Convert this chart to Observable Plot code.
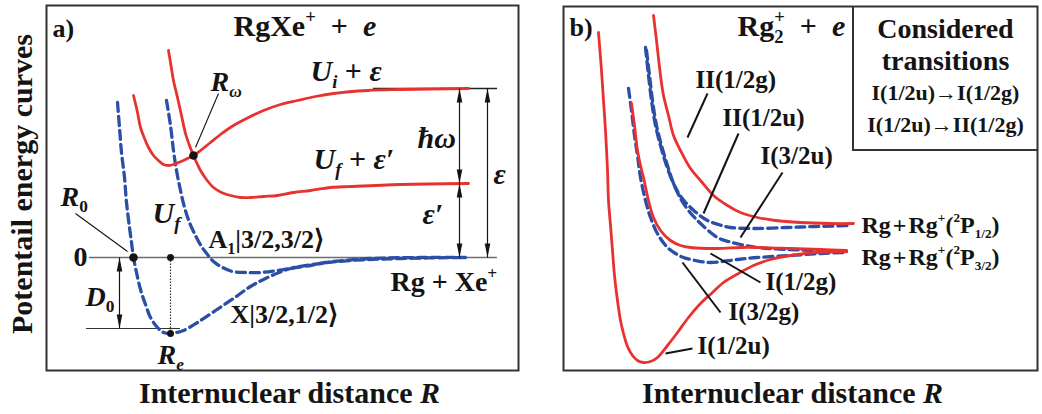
<!DOCTYPE html>
<html>
<head>
<meta charset="utf-8">
<script src="https://cdn.jsdelivr.net/npm/d3@7"></script>
<script src="https://cdn.jsdelivr.net/npm/@observablehq/plot@0.6"></script>
<style>
  body { margin: 0; background: #fff; }
  #fig { position: relative; width: 1042px; height: 414px; font-family: 'Liberation Serif', 'Times New Roman', serif; font-weight: bold; color: #141414; }
  #fig svg { position: absolute; top: 0; }
  #legend { position: absolute; left: 852px; top: 6px; width: 185px; height: 145px; box-sizing: border-box;
            border-left: 2px solid #333; border-bottom: 2px solid #333; text-align: center; padding-top: 7px; }
</style>
</head>
<body>
<div id="fig">
  <div id="legend">
    <div style="font-size:28px;line-height:32px">Considered</div>
    <div style="font-size:28px;line-height:32px">transitions</div>
    <div style="font-size:22px;line-height:32px">I(1/2u)→I(1/2g)</div>
    <div style="font-size:22px;line-height:31px">I(1/2u)→II(1/2g)</div>
  </div>
</div>
<script>
// ---- Panel a: RgXe+ + e  (R in arbitrary units, E relative to the Rg + Xe+ limit) ----
const xState  = [[71,155],[73,130],[75,105],[78,80],[80,55],[83,30],[85,15],[87,0],[90,-15],[94,-32],[99,-47],[104,-60],[111,-70],[117,-75],[124,-76],[130,-75],[137,-73],[151,-65],[169,-53],[187,-41],[204,-29],[219,-21],[244,-11],[274,-6],[304,-3],[354,-1],[419,0]];
const a1State = [[120,157],[124,132],[127,107],[130,87],[134,67],[138,50],[143,35],[149,22],[155,11],[161,3],[167,-4],[176,-10],[186,-14],[199,-15],[214,-15],[231,-13],[249,-10],[264,-8],[279,-5],[297,-3],[324,-1],[374,0],[419,0]];
const uiCurve = [[87,162],[91,145],[94,130],[98,119],[102,110],[107,102],[112,97],[117,93],[122,92],[127,93],[132,95],[139,98],[147,102],[154,107],[164,115],[174,123],[187,132],[202,140],[217,147],[234,153],[251,157],[269,161],[287,164],[321,167],[354,168],[422,169]];
const ufCurve = [[122,207],[124,195],[127,177],[131,160],[135,142],[139,124],[143,112],[147,102],[151,93],[154,87],[160,78],[167,70],[175,65],[184,62],[194,60],[204,60],[217,61],[231,62],[247,65],[264,67],[284,70],[304,71],[354,73],[422,74]];

// ---- Panel b: Rg2+ + e  (E relative to the Rg + Rg+(2P3/2) limit) ----
const i12u  = [[35,218],[38,180],[40,150],[42,120],[44,80],[45,50],[47,25],[49,0],[51,-25],[54,-50],[57,-70],[60,-83],[64,-96],[69,-105],[74,-110],[80,-112],[87,-111],[94,-107],[104,-95],[114,-82],[125,-67],[137,-53],[149,-42],[160,-32],[175,-23],[190,-15],[207,-9],[227,-5],[252,-2],[283,-1]];
const i12g  = [[68,147],[71,125],[74,100],[77,85],[80,73],[85,50],[90,33],[97,20],[107,10],[117,5],[127,3],[154,2],[177,3],[194,3],[227,2],[257,1],[283,0]];
const i32g  = [[65,162],[68,140],[71,115],[74,95],[77,73],[82,50],[87,33],[95,15],[104,3],[112,-3],[120,-7],[132,-10],[147,-12],[174,-9],[194,-7],[227,-5],[257,-3],[283,-2]];
const ii12u = [[82,203],[85,175],[88,150],[92,125],[97,105],[103,85],[110,67],[118,53],[127,43],[135,36],[144,30],[155,26],[167,23],[190,22],[224,23],[252,24],[287,25]];
const i32u  = [[83,200],[86,175],[89,150],[93,125],[98,105],[104,85],[110,67],[117,52],[125,40],[137,27],[154,13],[165,9],[177,6],[194,3],[224,1],[252,0],[283,-1]];
const ii12g = [[90,235],[93,210],[97,175],[100,155],[105,135],[110,115],[117,100],[127,82],[137,70],[150,55],[164,45],[177,38],[194,33],[212,30],[237,28],[267,27],[290,27]];

const red = "#e8322f", blue = "#2b4fa6", ink = "#141414";
const serif = "'Liberation Serif', 'Times New Roman', serif";
const pts = a => a.map(([R, E]) => ({R, E}));

// Minimal markup for labels: *italic*, _{sub}, ^{sup}, ~ stacks the next piece over the previous one
function parse(s) {
  const segs = []; let cur = "", ital = false, lvl = 0, back = false;
  const push = () => { if (cur) { segs.push({t: cur, ital, lvl, back}); cur = ""; back = false; } };
  for (let i = 0; i < s.length; i++) {
    const c = s[i];
    if (c === "*") { push(); ital = !ital; }
    else if ((c === "_" || c === "^") && s[i + 1] === "{") { push(); lvl = c === "_" ? -1 : 1; i++; }
    else if (c === "}" && lvl) { push(); lvl = 0; }
    else if (c === "~") { push(); back = true; }
    else cur += c;
  }
  push();
  return segs;
}
function rich(fs, small = 0.62) {
  return (index, scales, values, dims, ctx, next) => {
    const g = next(index, scales, values, dims, ctx);
    g.querySelectorAll("text").forEach(t => {
      const segs = parse(t.textContent);
      t.textContent = "";
      let off = 0, prev = null;
      for (const sg of segs) {
        const size = sg.lvl ? fs * small : fs;
        const target = sg.lvl < 0 ? fs * 0.24 : sg.lvl > 0 ? -fs * 0.42 : 0;
        const ts = document.createElementNS("http://www.w3.org/2000/svg", "tspan");
        ts.textContent = sg.t;
        if (sg.lvl) ts.setAttribute("font-size", size);
        if (sg.ital) ts.setAttribute("font-style", "italic");
        if (target !== off) { ts.setAttribute("dy", target - off); off = target; }
        if (sg.back && prev) ts.setAttribute("dx", -prev.t.length * 0.5 * (prev.lvl ? fs * small : fs));
        t.appendChild(ts);
        prev = sg;
      }
    });
    return g;
  };
}
const label = (s, R, E, fs, o = {}, small) =>
  Plot.text([{R, E, s}], {x: "R", y: "E", text: "s", fontSize: fs, fontWeight: "bold", fontFamily: serif,
    textAnchor: "start", lineAnchor: "bottom", fill: ink, render: rich(fs, small), ...o});
const solid = d => Plot.line(pts(d), {x: "R", y: "E", curve: "catmull-rom", stroke: red, strokeWidth: 2.8});
const dashed = d => Plot.line(pts(d), {x: "R", y: "E", curve: "catmull-rom", stroke: blue, strokeWidth: 3.3, strokeDasharray: "9,5"});
const leaders = (segs, w) => Plot.link(segs, {x1: d => d[0], y1: d => d[1], x2: d => d[2], y2: d => d[3], stroke: ink, strokeWidth: w});

// filled narrow arrowhead, tip at the anchor point
const head = {draw(c) { c.moveTo(0, 0); c.lineTo(2.8, 14); c.lineTo(-2.8, 14); c.closePath(); }};
const arrows = list => [
  Plot.link(list, {x1: "R", x2: "R", y1: "E1", y2: "E2", stroke: ink, strokeWidth: 1.2}),
  Plot.dot(list, {x: "R", y: "E1", symbol: head, r: 5, fill: ink, stroke: "none"}),
  Plot.dot(list, {x: "R", y: "E2", symbol: head, r: 5, fill: ink, stroke: "none", rotate: 180})
];
const axisTitle = (s, o) => Plot.text([s], {text: d => d, fontSize: 30, fontWeight: "bold", fontFamily: serif,
  fill: ink, render: rich(30), ...o});

// ----- panel a -----
const eps = uiCurve[uiCurve.length - 1][1];       // Ui + ε limit
const epsP = ufCurve[ufCurve.length - 1][1];      // Uf + ε' limit
const reMin = xState.reduce((m, p) => p[1] < m[1] ? p : m);
const r0 = xState.find(p => p[1] === 0);
const rOmega = uiCurve.find(p => ufCurve.some(q => q[0] === p[0] && q[1] === p[1]));
const d0 = -71;

const plotA = Plot.plot({
  width: 520, height: 414, marginLeft: 46, marginRight: 2, marginTop: 5, marginBottom: 44,
  x: {domain: [0, 472], axis: null}, y: {domain: [-113, 252], axis: null},
  style: {background: "transparent", fontFamily: serif, overflow: "visible"},
  marks: [
    Plot.frame({stroke: "#333", strokeWidth: 2}),
    Plot.ruleY([0], {x1: 43, x2: 451, stroke: "#6d6d6d", strokeWidth: 1.6}),
    Plot.ruleY([d0], {x1: 40, x2: 134, stroke: "#333", strokeWidth: 1.2}),
    Plot.ruleY([eps], {x1: 327, x2: 451, stroke: "#222", strokeWidth: 1.3}),
    Plot.link([reMin], {x1: d => d[0], x2: d => d[0], y1: 0, y2: d => d[1], stroke: "#333", strokeWidth: 1.2, strokeDasharray: "1.5,1.5"}),
    dashed(xState), dashed(a1State),
    solid(uiCurve), solid(ufCurve),
    ...arrows([{R: 413, E1: eps, E2: epsP}, {R: 413, E1: epsP, E2: 0}, {R: 441, E1: eps, E2: 0}, {R: 73, E1: 0, E2: d0}]),
    leaders([[29, 44, r0[0] - 6, 6], [172, 164, rOmega[0] + 2, rOmega[1] + 8]], 1.1),
    Plot.dot([r0, rOmega], {x: d => d[0], y: d => d[1], r: 4.3, fill: ink}),
    Plot.dot([[reMin[0], 0], reMin], {x: d => d[0], y: d => d[1], r: 3.5, fill: ink}),
    label("a)", 6, 221, 26),
    label("RgXe^{+}\u2002+\u2002*e*", 187, 222, 30),
    label("*U*_{*i*} + *ε*", 264, 177, 30),
    label("*U*_{*f*} + *ε′*", 267, 89, 30),
    label("*ħω*", 371, 110, 30),
    label("*ε*", 447, 74, 30),
    label("*ε′*", 376, 34, 30),
    label("*U*_{*f*}", 106, 35, 30),
    label("*R*_{*ω*}", 164, 167, 28),
    label("*R*_{0}", 14, 52, 28),
    label("*D*_{0}", 39, -48, 28),
    label("*R*_{*e*}", 111, -106, 28),
    label("0", 41, 0, 28, {textAnchor: "end", lineAnchor: "middle"}),
    label("A_{1}|3/2,3/2⟩", 162, 10, 26),
    label("X|3/2,1/2⟩", 184, -65, 26),
    label("Rg + Xe^{+}", 344, -33, 28),
    axisTitle("Internuclear distance *R*", {frameAnchor: "bottom", dx: 7, dy: 32, lineAnchor: "bottom"}),
    axisTitle("Potentail energy curves", {frameAnchor: "left", rotate: -90, dx: -24, dy: -4, textAnchor: "middle", lineAnchor: "middle"})
  ]
});
plotA.style.left = "0px";

// ----- panel b -----
const plotB = Plot.plot({
  width: 522, height: 414, marginLeft: 43, marginRight: 5, marginTop: 6, marginBottom: 44,
  x: {domain: [0, 474], axis: null}, y: {domain: [-120, 244], axis: null},
  style: {background: "transparent", fontFamily: serif},
  marks: [
    Plot.frame({stroke: "#333", strokeWidth: 2}),
    dashed(ii12u), dashed(i32u), dashed(i32g),
    solid(ii12g), solid(i12g), solid(i12u),
    leaders([[144, 157, 124, 113], [175, 117, 140, 37], [219, 78, 177, 13], [197, -32, 147, -3], [157, -62, 119, -12], [129, -98, 102, -103]], 2),
    label("b)", 6, 215, 26),
    label("Rg_{2}~^{+}\u2002+\u2002*e*", 174, 215, 30),
    label("II(1/2g)", 132, 163, 25),
    label("II(1/2u)", 159, 125, 25),
    label("I(3/2u)", 197, 87, 25),
    label("I(1/2g)", 202, -39, 25),
    label("I(3/2g)", 165, -69, 25),
    label("I(1/2u)", 134, -103, 25),
    label("Rg\u200a+\u200aRg^{+}(^{2}P_{1/2})", 298, 18, 24, {}, 0.55),
    label("Rg\u200a+\u200aRg^{+}(^{2}P_{3/2})", 298, -14, 24, {}, 0.55),
    axisTitle("Internuclear distance *R*", {frameAnchor: "bottom", dx: -8, dy: 32, lineAnchor: "bottom"})
  ]
});
plotB.style.left = "520px";

const fig = document.getElementById("fig");
fig.insertBefore(plotB, fig.firstChild);
fig.insertBefore(plotA, fig.firstChild);
</script>
</body>
</html>
